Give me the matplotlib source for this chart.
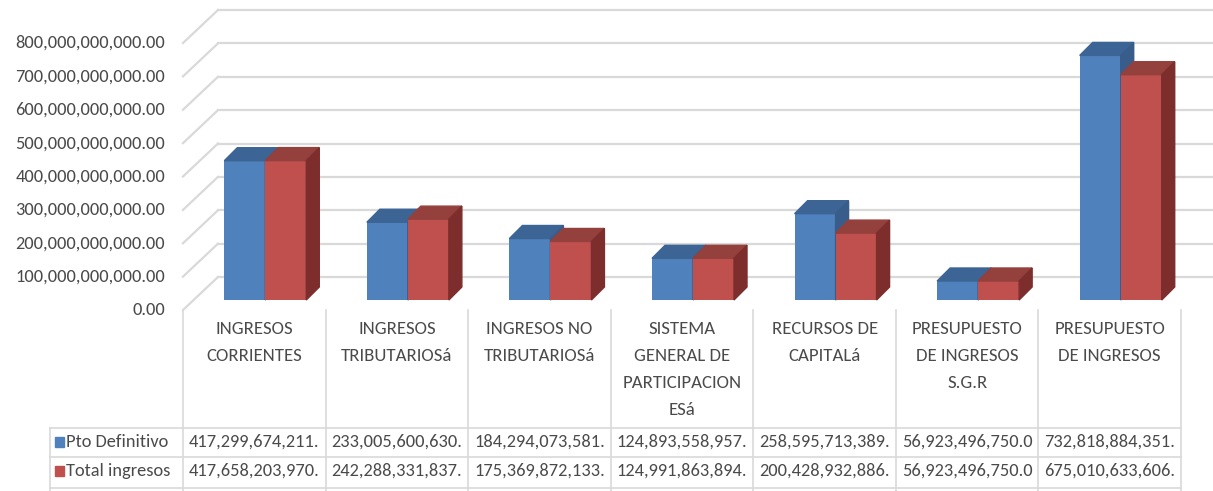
import matplotlib.pyplot as plt
import numpy as np
from matplotlib.patches import Polygon

categorias = ['INGRESOS\nCORRIENTES', 'INGRESOS\nTRIBUTARIOSá', 'INGRESOS NO\nTRIBUTARIOSá',
              'SISTEMA\nGENERAL DE\nPARTICIPACION\nESá', 'RECURSOS DE\nCAPITALá',
              'PRESUPUESTO\nDE INGRESOS\nS.G.R', 'PRESUPUESTO\nDE INGRESOS']
pto_definitivo = [417299674211, 233005600630, 184294073581, 124893558957,
                  258595713389, 56923496750, 732818884351]
total_ingresos = [417658203970, 242288331837, 175369872133, 124991863894,
                  200428932886, 56923496750, 675010633606]
series = ['Pto Definitivo', 'Total ingresos']
ticks = np.arange(0, 8e11 + 1, 1e11)

plt.rcParams['font.family'] = ['Carlito', 'DejaVu Sans']
gris = '#4A4A4A'
linea = '#D9D9D9'

W, H = 1213, 491
fig = plt.figure(figsize=(W / 100, H / 100), dpi=100)

# plano frontal del area de grafico (pixeles)
x0, x1 = 183, 1181
y0, y1 = 310, 43
n = len(categorias)
ax = fig.add_axes([x0 / W, 1 - y0 / H, (x1 - x0) / W, (y0 - y1) / H])
ax.set_xlim(-0.5, n - 0.5)
ax.set_ylim(0, 8e11)
ax.axis('off')

px_x = (x1 - x0) / n
px_y = (y0 - y1) / 8e11
def dx(p): return p / px_x
def dy(p): return p / px_y

# pared del fondo + pared lateral
for t in ticks:
    ax.plot([-0.5 + dx(35), n - 0.5 + dx(35)], [t + dy(33)] * 2, color=linea, lw=1.6,
            clip_on=False, zorder=1)
    ax.plot([-0.5, -0.5 + dx(35)], [t, t + dy(33)], color=linea, lw=1.6,
            clip_on=False, zorder=1)
    ax.text(-0.5 - dx(18), t, f'{t:,.2f}', ha='right', va='center',
            fontsize=13.2, color=gris)

# columnas 3D
w = dx(41)
sx = dx(11)
base = dy(10)
ddx, ddy = dx(13), dy(13)
colores = [('#4F81BD', '#3C6494', '#385D8A'), ('#C0504D', '#94403D', '#7D2E2C')]
z = 2
for i in range(n):
    for j, vals in enumerate([pto_definitivo, total_ingresos]):
        v = vals[i]
        left = i + sx - w + j * w
        front, top, side = colores[j]
        ax.bar(left, v, width=w, bottom=base, align='edge', color=front, zorder=z, clip_on=False)
        ax.add_patch(Polygon([(left, base + v), (left + w, base + v),
                              (left + w + ddx, base + v + ddy), (left + ddx, base + v + ddy)],
                             closed=True, color=top, zorder=z + 1, clip_on=False))
        ax.add_patch(Polygon([(left + w, base), (left + w + ddx, base + ddy),
                              (left + w + ddx, base + v + ddy), (left + w, base + v)],
                             closed=True, color=side, zorder=z + 1, clip_on=False))
        z += 2

# tabla de datos
tb = fig.add_axes([0, 0, 1, 1], zorder=-1)
tb.set_xlim(0, W)
tb.set_ylim(H, 0)
tb.axis('off')
bordes = [x0 + k * px_x for k in range(n + 1)]
for bx in bordes:
    tb.plot([bx, bx], [310, 491], color=linea, lw=1.2)
tb.plot([50, 50], [428, 491], color=linea, lw=1.2)
for hy in [428, 457, 488]:
    tb.plot([50, x1], [hy, hy], color=linea, lw=1.2)

for k, cat in enumerate(categorias):
    cx = x0 + (k + 0.5) * px_x
    tb.text(cx, 321, cat, ha='center', va='top', fontsize=13.5, color=gris, linespacing=1.85)

filas_y = [442, 471]
for j, (nombre, vals) in enumerate(zip(series, [pto_definitivo, total_ingresos])):
    fy = filas_y[j]
    tb.add_patch(plt.Rectangle((55, fy - 5), 9, 10, color=colores[j][0]))
    tb.text(66, fy, nombre, ha='left', va='center', fontsize=13.2, color=gris)
    for k, v in enumerate(vals):
        cx = x0 + (k + 0.5) * px_x
        tb.text(cx, fy, f'{v:,.2f}'[:16], ha='center', va='center', fontsize=13.2, color=gris)

fig.savefig('out.png', dpi=100)
